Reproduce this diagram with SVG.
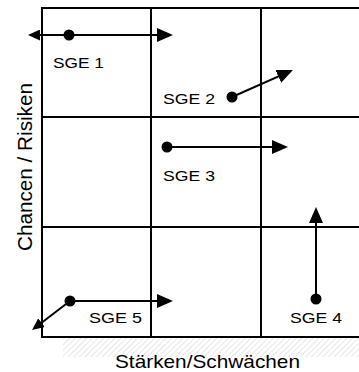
<svg xmlns="http://www.w3.org/2000/svg" width="359" height="372" viewBox="0 0 359 372">
  <style>
    .grid { stroke: #000; stroke-width: 2; fill: none; }
    .move { stroke: #000; stroke-width: 2; fill: none; }
    .dot { fill: #000; }
    .lbl { font-family: "Liberation Sans", Arial, sans-serif; font-size: 15.5px; fill: #000; }
    .axis { font-family: "Liberation Sans", Arial, sans-serif; font-size: 19px; fill: #000; }
  </style>
  <defs>
    <pattern id="hatch" width="4" height="4" patternUnits="userSpaceOnUse" patternTransform="rotate(45)">
      <line x1="0" y1="0" x2="0" y2="4" stroke="#cfcfcf" stroke-width="1"/>
    </pattern>
    <marker id="headL" viewBox="0 0 16 14" markerWidth="16" markerHeight="14" refX="12" refY="7" orient="auto" markerUnits="userSpaceOnUse">
      <path d="M0,0 L16,7 L0,14 z" fill="#000"/>
    </marker>
    <marker id="headS" viewBox="0 0 12 11" markerWidth="12" markerHeight="11" refX="9" refY="5.5" orient="auto-start-reverse" markerUnits="userSpaceOnUse">
      <path d="M0,0 L12,5.5 L0,11 z" fill="#000"/>
    </marker>
  </defs>

  <rect id="baseline-shade" x="63" y="338" width="296" height="19" fill="url(#hatch)"/>

  <g id="grid">
    <line class="grid" x1="42" y1="8" x2="359" y2="8"/>
    <line class="grid" x1="42" y1="117" x2="359" y2="117"/>
    <line class="grid" x1="42" y1="227" x2="359" y2="227"/>
    <line class="grid" x1="42" y1="337" x2="359" y2="337"/>
    <line class="grid" x1="42" y1="7" x2="42" y2="338"/>
    <line class="grid" x1="151" y1="7" x2="151" y2="338"/>
    <line class="grid" x1="261" y1="7" x2="261" y2="338"/>
  </g>

  <g id="connectors">
    <line class="move" x1="31" y1="35" x2="169" y2="35" marker-start="url(#headS)" marker-end="url(#headL)"/>
    <line class="move" x1="232" y1="97" x2="289.3" y2="71.6" marker-end="url(#headL)"/>
    <line class="move" x1="167" y1="147" x2="284" y2="147" marker-end="url(#headL)"/>
    <line class="move" x1="316" y1="299" x2="316" y2="211" marker-end="url(#headL)"/>
    <line class="move" x1="70" y1="301" x2="169" y2="301" marker-end="url(#headL)"/>
    <line class="move" x1="70" y1="301" x2="34.4" y2="328.2" marker-end="url(#headS)"/>
  </g>

  <g id="sge1">
    <circle class="dot" cx="69" cy="35" r="5.5"/>
    <text class="lbl" x="53" y="68" textLength="51" lengthAdjust="spacingAndGlyphs">SGE 1</text>
  </g>
  <g id="sge2">
    <circle class="dot" cx="232" cy="97" r="5.5"/>
    <text class="lbl" x="163" y="104" textLength="52" lengthAdjust="spacingAndGlyphs">SGE 2</text>
  </g>
  <g id="sge3">
    <circle class="dot" cx="167" cy="147" r="5.5"/>
    <text class="lbl" x="163" y="181" textLength="52" lengthAdjust="spacingAndGlyphs">SGE 3</text>
  </g>
  <g id="sge4">
    <circle class="dot" cx="316" cy="299" r="5.5"/>
    <text class="lbl" x="290" y="323" textLength="52" lengthAdjust="spacingAndGlyphs">SGE 4</text>
  </g>
  <g id="sge5">
    <circle class="dot" cx="70" cy="301" r="5.5"/>
    <text class="lbl" x="89" y="323" textLength="53" lengthAdjust="spacingAndGlyphs">SGE 5</text>
  </g>

  <g id="axis-labels">
    <text class="axis" x="115" y="368" textLength="185" lengthAdjust="spacingAndGlyphs">Stärken/Schwächen</text>
    <text class="axis" transform="translate(32,251) scale(1.1,1) rotate(-90)" x="0" y="0" font-size="20" textLength="168" lengthAdjust="spacingAndGlyphs">Chancen / Risiken</text>
  </g>
</svg>
